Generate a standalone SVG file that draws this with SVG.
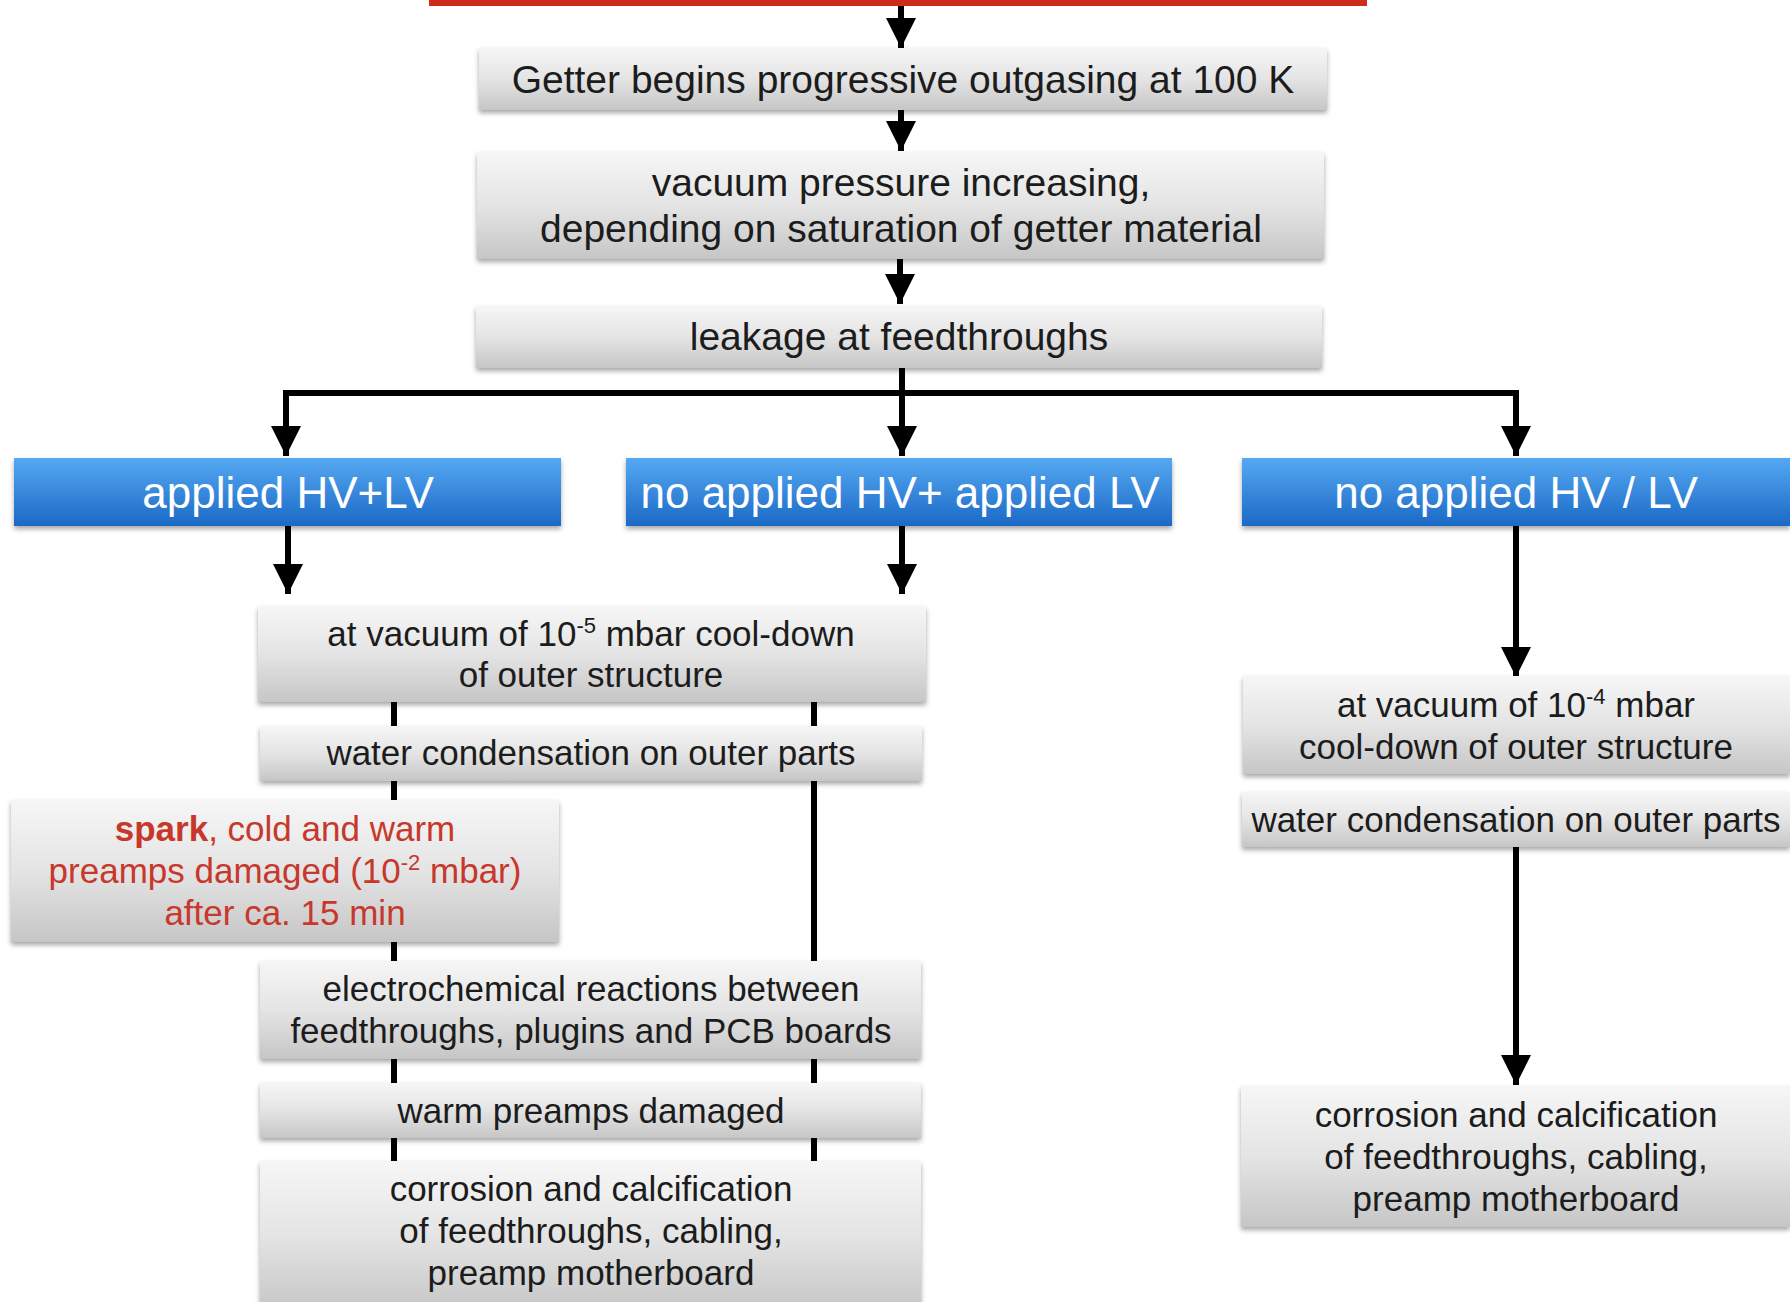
<svg xmlns="http://www.w3.org/2000/svg" width="1790" height="1302" viewBox="0 0 1790 1302">
<defs>
  <linearGradient id="gGray" x1="0" y1="0" x2="0" y2="1">
    <stop offset="0" stop-color="#f6f6f6"/>
    <stop offset="0.5" stop-color="#e4e4e4"/>
    <stop offset="1" stop-color="#c6c6c6"/>
  </linearGradient>
  <linearGradient id="gBlue" x1="0" y1="0" x2="0" y2="1">
    <stop offset="0" stop-color="#55a8f2"/>
    <stop offset="1" stop-color="#1b69c6"/>
  </linearGradient>
  <filter id="sh" x="-5%" y="-20%" width="110%" height="150%">
    <feDropShadow dx="0" dy="3" stdDeviation="2.5" flood-color="#000" flood-opacity="0.35"/>
  </filter>
  <marker id="arr" viewBox="0 0 30 30" markerWidth="30" markerHeight="30" refX="30" refY="15" orient="auto" markerUnits="userSpaceOnUse">
    <path d="M0,0 L30,15 L0,30 z" fill="#000"/>
  </marker>
  <style>
    .gray { fill: url(#gGray); filter: url(#sh); }
    .blue { fill: url(#gBlue); filter: url(#sh); }
    .t { font-family: "Liberation Sans", Arial, Helvetica, sans-serif; fill: #1c1c1c; text-anchor: middle; }
    .tl { font-size: 39px; }
    .ts { font-size: 35px; }
    .tb { font-size: 44px; fill: #ffffff; }
    .red { fill: #c8372b; }
    .sup { font-size: 22px; }
    .ln { fill: none; stroke: #000; stroke-width: 6; stroke-linejoin: miter; }
  </style>
</defs>
<rect x="0" y="0" width="1790" height="1302" fill="#ffffff"/>

<g id="connectors">
  <line class="ln" x1="901" y1="6" x2="901" y2="48" marker-end="url(#arr)"/>
  <line class="ln" x1="901" y1="110" x2="901" y2="151" marker-end="url(#arr)"/>
  <line class="ln" x1="900" y1="259" x2="900" y2="304" marker-end="url(#arr)"/>
  <path class="ln" d="M286,456 V393 H1516 V456" marker-end="url(#arr)"/>
  <line class="ln" x1="286" y1="420" x2="286" y2="456" marker-end="url(#arr)"/>
  <line class="ln" x1="902" y1="368" x2="902" y2="456" marker-end="url(#arr)"/>
  <line class="ln" x1="288" y1="526" x2="288" y2="594" marker-end="url(#arr)"/>
  <line class="ln" x1="902" y1="526" x2="902" y2="594" marker-end="url(#arr)"/>
  <line class="ln" x1="1516" y1="526" x2="1516" y2="677" marker-end="url(#arr)"/>
  <line class="ln" x1="394" y1="700" x2="394" y2="1163"/>
  <line class="ln" x1="814" y1="700" x2="814" y2="1163"/>
  <line class="ln" x1="1516" y1="847" x2="1516" y2="1085" marker-end="url(#arr)"/>
</g>

<g id="top-bar">
  <rect x="429" y="-6" width="938" height="12" fill="#cf2b1c"/>
</g>

<g id="n-getter">
  <rect class="gray" x="479" y="48" width="848" height="62"/>
  <text class="t tl" x="903" y="93">Getter begins progressive outgasing at 100 K</text>
</g>

<g id="n-vacuum">
  <rect class="gray" x="477" y="152" width="847" height="107"/>
  <text class="t tl" x="901" y="196">vacuum pressure increasing,</text>
  <text class="t tl" x="901" y="242">depending on saturation of getter material</text>
</g>

<g id="n-leakage">
  <rect class="gray" x="476" y="306" width="846" height="62"/>
  <text class="t tl" x="899" y="350">leakage at feedthroughs</text>
</g>

<g id="n-hvlv">
  <rect class="blue" x="14" y="458" width="547" height="68"/>
  <text class="t tb" x="288" y="508">applied HV+LV</text>
</g>

<g id="n-lv">
  <rect class="blue" x="626" y="458" width="546" height="68"/>
  <text class="t tb" x="900" y="508">no applied HV+ applied LV</text>
</g>

<g id="n-none">
  <rect class="blue" x="1242" y="458" width="548" height="68"/>
  <text class="t tb" x="1516" y="508">no applied HV / LV</text>
</g>

<g id="n-l1">
  <rect class="gray" x="258" y="606" width="668" height="96"/>
  <text class="t ts" x="591" y="646">at vacuum of 10<tspan class="sup" dy="-13">-5</tspan><tspan dy="13"> mbar cool-down</tspan></text>
  <text class="t ts" x="591" y="687">of outer structure</text>
</g>

<g id="n-l2">
  <rect class="gray" x="260" y="726" width="662" height="55"/>
  <text class="t ts" x="591" y="765">water condensation on outer parts</text>
</g>

<g id="n-spark">
  <rect class="gray" x="11" y="800" width="548" height="142"/>
  <text class="t ts red" x="285" y="841"><tspan font-weight="bold">spark</tspan>, cold and warm</text>
  <text class="t ts red" x="285" y="883">preamps damaged (10<tspan class="sup" dy="-13">-2</tspan><tspan dy="13"> mbar)</tspan></text>
  <text class="t ts red" x="285" y="925">after ca. 15 min</text>
</g>

<g id="n-l4">
  <rect class="gray" x="260" y="961" width="661" height="98"/>
  <text class="t ts" x="591" y="1001">electrochemical reactions between</text>
  <text class="t ts" x="591" y="1043">feedthroughs, plugins and PCB boards</text>
</g>

<g id="n-l5">
  <rect class="gray" x="260" y="1083" width="661" height="55"/>
  <text class="t ts" x="591" y="1123">warm preamps damaged</text>
</g>

<g id="n-l6">
  <rect class="gray" x="260" y="1161" width="661" height="150"/>
  <text class="t ts" x="591" y="1201">corrosion and calcification</text>
  <text class="t ts" x="591" y="1243">of feedthroughs, cabling,</text>
  <text class="t ts" x="591" y="1285">preamp motherboard</text>
</g>

<g id="n-r1">
  <rect class="gray" x="1243" y="676" width="547" height="98"/>
  <text class="t ts" x="1516" y="717">at vacuum of 10<tspan class="sup" dy="-13">-4</tspan><tspan dy="13"> mbar</tspan></text>
  <text class="t ts" x="1516" y="759">cool-down of outer structure</text>
</g>

<g id="n-r2">
  <rect class="gray" x="1242" y="792" width="548" height="55"/>
  <text class="t ts" x="1516" y="832">water condensation on outer parts</text>
</g>

<g id="n-r3">
  <rect class="gray" x="1241" y="1086" width="549" height="141"/>
  <text class="t ts" x="1516" y="1127">corrosion and calcification</text>
  <text class="t ts" x="1516" y="1169">of feedthroughs, cabling,</text>
  <text class="t ts" x="1516" y="1211">preamp motherboard</text>
</g>
</svg>
